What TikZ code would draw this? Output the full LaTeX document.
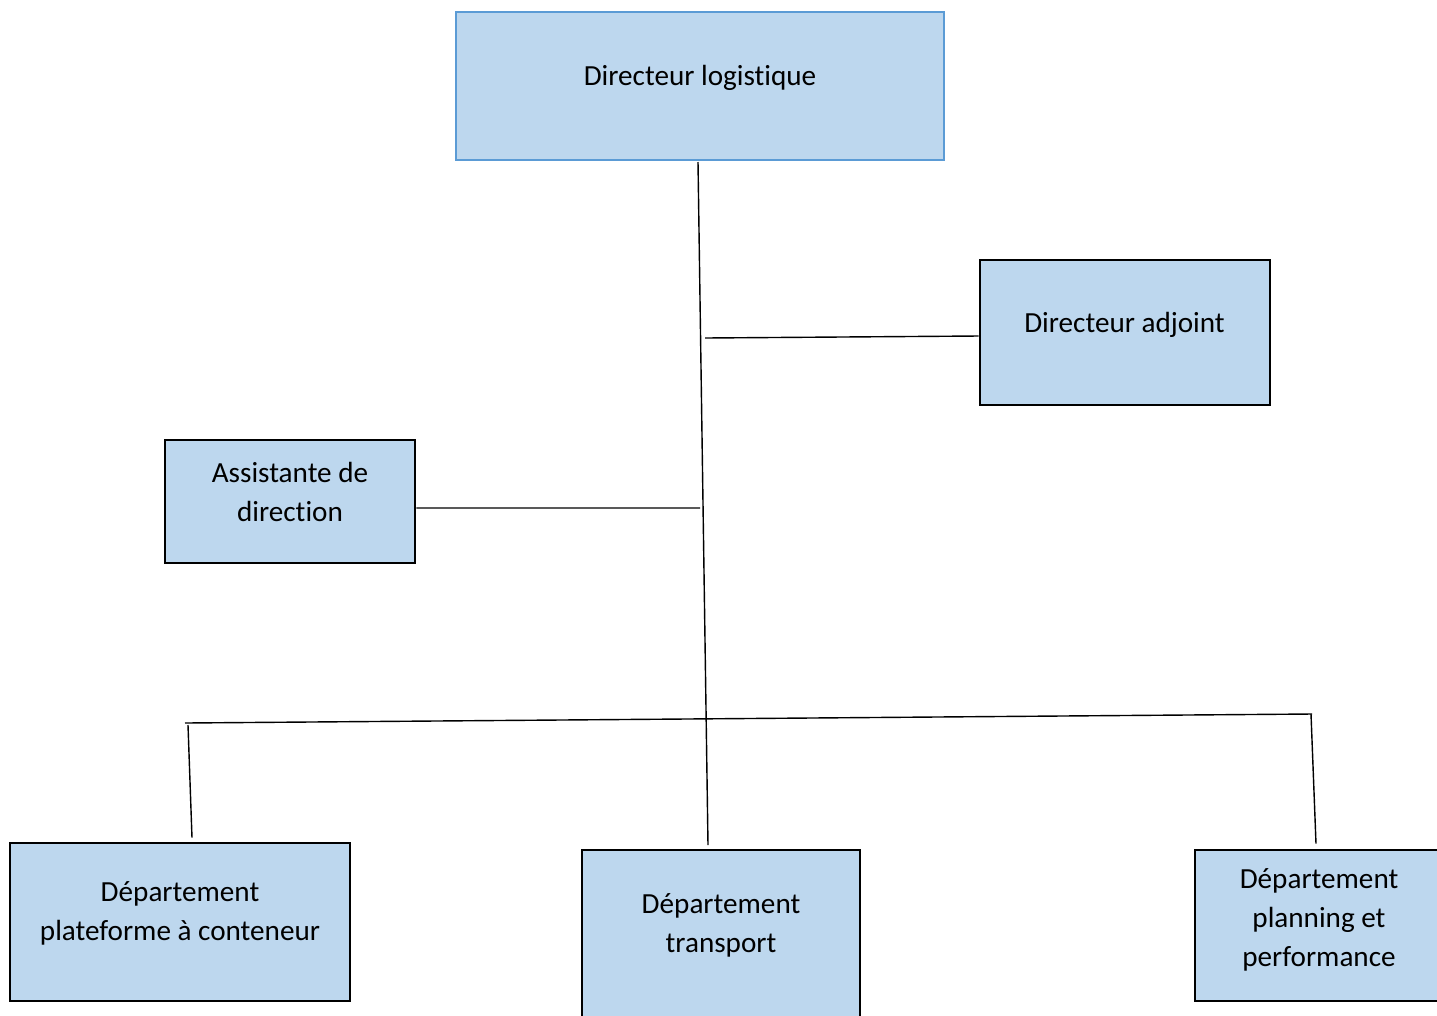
\documentclass[tikz,border=0pt]{standalone}
\usepackage{fontspec}
\setmainfont[Ligatures=NoCommon]{Carlito}
\definecolor{boxfill}{RGB}{189, 215, 238}
\definecolor{boxblue}{RGB}{91, 155, 213}
\usepackage{tikz}
\usetikzlibrary{positioning, calc}

\begin{document}
\begin{tikzpicture}[x=0.02cm, y=-0.02cm,
  unite/.style={draw=black, fill=boxfill, line width=1.5pt, inner sep=0pt},
  libelle/.style={align=center, inner sep=0pt, font=\fontsize{16.6}{22.2}\selectfont},
  lien/.style={draw=black, line width=0.8pt}]
  \useasboundingbox (0,0) rectangle (1437,1015);

  % Top box
  \node[unite, draw=boxblue, line width=1.3pt, minimum width=9.76cm, minimum height=2.96cm] (dirlog) at (700, 86) {};
  \node[libelle] (dirlog-t) at (700, 77.5) {Directeur logistique};

  % Staff boxes
  \node[unite, minimum width=5.8cm, minimum height=2.9cm] (adjoint) at (1125, 332.5) {};
  \node[libelle] (adjoint-t) at (1124.5, 324.5) {Directeur adjoint};

  \node[unite, minimum width=5cm, minimum height=2.46cm] (assist) at (290, 501.5) {};
  \node[libelle] (assist-t) at (290, 492) {Assistante de\\direction};

  % Departments
  \node[unite, minimum width=6.8cm, minimum height=3.16cm] (plateforme) at (180, 922) {};
  \node[libelle] (plateforme-t) at (180, 913) {Département\\plateforme à conteneur};

  \node[unite, minimum width=5.56cm, minimum height=3.6cm] (transport) at (721, 940) {};
  \node[libelle] (transport-t) at (721, 925.5) {Département\\transport};

  \node[unite, minimum width=4.96cm, minimum height=3.02cm] (planning) at (1319, 925.5) {};
  \node[libelle] (planning-t) at (1319, 920) {Département\\planning et\\performance};

  % Connectors
  \coordinate (tronc-haut) at (698, 162);
  \coordinate (tronc-bas) at (708, 845);
  \coordinate (adj-pied) at (705, 338);
  \coordinate (ass-pied) at (700, 508);
  \coordinate (bus-g) at (185, 723);
  \coordinate (bus-d) at (1312, 714);
  \coordinate (chute-g) at (188, 725);
  \coordinate (chute-d) at (1311, 714);

  \draw[lien] (tronc-haut) -- (tronc-bas);
  \draw[lien] (adj-pied) -- ($(adjoint.west)+(0,3.5)$);
  \draw[lien] ($(assist.east)+(0,6.5)$) -- (ass-pied);
  \draw[lien] (bus-g) -- (bus-d);
  \draw[lien] (chute-g) -- ($(plateforme.north)+(12,-4)$);
  \draw[lien] (chute-d) -- ($(planning.north)+(-3,-5)$);
\end{tikzpicture}
\end{document}
